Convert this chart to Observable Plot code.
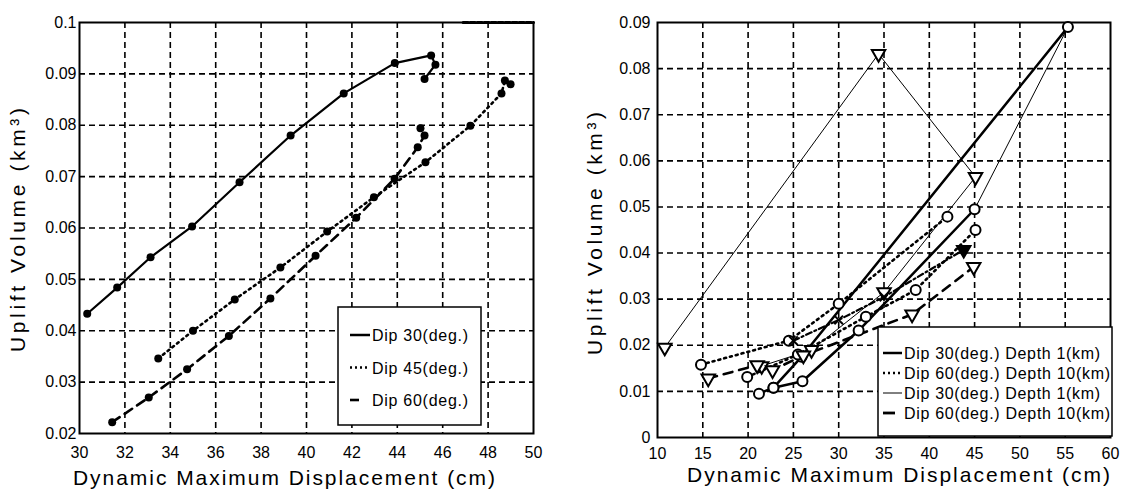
<!DOCTYPE html>
<html><head><meta charset="utf-8">
<script src="https://cdn.jsdelivr.net/npm/d3@7"></script>
<script src="https://cdn.jsdelivr.net/npm/@observablehq/plot@0.6"></script>
<style>
html,body{margin:0;padding:0;background:#fff;}
body{width:1140px;height:497px;position:relative;overflow:hidden;}
.panel{position:absolute;top:0;}
#overlay{position:absolute;left:0;top:0;pointer-events:none;}
</style>
</head><body>
<div id="leftPanel" class="panel" style="left:0"></div>
<div id="rightPanel" class="panel" style="left:570px"></div>
<svg id="overlay" width="1140" height="497"></svg>
<script>
// ---------- Left chart data ----------
const leftXTicks = [30,32,34,36,38,40,42,44,46,48,50];
const leftYTicks = [0.02,0.03,0.04,0.05,0.06,0.07,0.08,0.09,0.1];
const dip30X = [30.34,31.66,33.13,34.96,37.05,39.30,41.64,43.89,45.49,45.68,45.20];
const dip30Y = [0.0433,0.0484,0.0543,0.0603,0.0689,0.0780,0.0862,0.0921,0.0936,0.0918,0.0890];
const dip45X = [33.47,35.00,36.84,38.85,40.91,42.97,45.24,47.22,48.59,48.74,48.99];
const dip45Y = [0.0346,0.0400,0.0461,0.0523,0.0593,0.0660,0.0728,0.0799,0.0862,0.0887,0.0880];
const dip60X = [31.44,33.05,34.74,36.58,38.41,40.40,42.19,43.88,44.90,45.20,45.02];
const dip60Y = [0.0222,0.0270,0.0325,0.0390,0.0463,0.0546,0.0620,0.0696,0.0757,0.0780,0.0794];
const leftTopDashX = [46.9,50];
const leftTopDashY = [0.1,0.1];
const leftLegend = ["Dip 30(deg.)","Dip 45(deg.)","Dip 60(deg.)"];

// ---------- Right chart data ----------
const rightXTicks = [10,15,20,25,30,35,40,45,50,55,60];
const rightYTicks = [0,0.01,0.02,0.03,0.04,0.05,0.06,0.07,0.08,0.09];
const thickAX = [21.2,22.8,26.0,32.2,45.0];
const thickAY = [0.0095,0.0108,0.0122,0.0232,0.0495];
const thickBX = [22.8,25.9,55.3];
const thickBY = [0.0108,0.0175,0.0890];
const dotAX = [14.8,24.5,30.0,42.0];
const dotAY = [0.0158,0.0210,0.0290,0.0479];
const dotBX = [19.9,25.5,33.0,38.5,45.1];
const dotBY = [0.0131,0.0180,0.0262,0.0320,0.0450];
const thinAX = [10.8,34.4,45.1,35.0,27.0,21.5];
const thinAY = [0.0195,0.0832,0.0565,0.0315,0.0190,0.0155];
const thinBX = [45.0,55.3];
const thinBY = [0.0495,0.0890];
const dashAX = [15.6,21.0,22.7,26.1,38.1,44.9];
const dashAY = [0.0128,0.0157,0.0146,0.0178,0.0267,0.0370];
const dashBX = [25.0,30.0,35.0,43.8];
const dashBY = [0.0210,0.0255,0.0305,0.0407];
const rightLegend = ["Dip 30(deg.) Depth 1(km)","Dip 60(deg.) Depth 10(km)","Dip 30(deg.) Depth 1(km)","Dip 60(deg.) Depth 10(km)"];

const xTitle = "Dynamic Maximum Displacement (cm)";
const yTitle = "Uplift Volume (km³)";

// ---------- helpers ----------
const FONT = '"Liberation Sans",Arial,sans-serif';
const P = (xs, ys) => xs.map((x, i) => ({x, y: ys[i]}));
const fmt = d => String(+d.toFixed(2));
const gridStyle = {stroke:"#000", strokeOpacity:1, strokeWidth:1.6, strokeDasharray:"6,4"};

const left = Plot.plot({
  width: 560, height: 497,
  marginLeft: 79, marginRight: 27, marginTop: 22, marginBottom: 64,
  style: {fontFamily: FONT, fontSize: "16px", color: "#000", background: "transparent", overflow: "visible"},
  x: {domain: [30, 50]},
  y: {domain: [0.02, 0.1]},
  marks: [
    Plot.gridX(leftXTicks.slice(1, -1), gridStyle),
    Plot.gridY(leftYTicks.slice(1, -1), gridStyle),
    Plot.frame({stroke: "#000", strokeWidth: 2}),
    Plot.line(P(leftTopDashX, leftTopDashY), {x:"x", y:"y", stroke:"#000", strokeWidth:3, strokeDasharray:"5,2"}),
    Plot.line(P(dip30X, dip30Y), {x:"x", y:"y", stroke:"#000", strokeWidth:2.2}),
    Plot.line(P(dip45X, dip45Y), {x:"x", y:"y", stroke:"#000", strokeWidth:2.6, strokeDasharray:"2,4"}),
    Plot.line(P(dip60X, dip60Y), {x:"x", y:"y", stroke:"#000", strokeWidth:2.6, strokeDasharray:"9,6"}),
    Plot.dot(P(dip30X, dip30Y), {x:"x", y:"y", fill:"#000", r:4}),
    Plot.dot(P(dip45X, dip45Y), {x:"x", y:"y", fill:"#000", r:4}),
    Plot.dot(P(dip60X, dip60Y), {x:"x", y:"y", fill:"#000", r:4}),
    Plot.axisX(leftXTicks, {tickSize: 0, tickPadding: 13, tickFormat: d => String(d), label: null}),
    Plot.axisY(leftYTicks, {tickSize: 0, tickPadding: 3, tickFormat: fmt, label: null})
  ]
});
document.getElementById("leftPanel").appendChild(left);

const tri = {symbol: "triangle", rotate: 180};
const right = Plot.plot({
  width: 570, height: 497,
  marginLeft: 87, marginRight: 30, marginTop: 22, marginBottom: 60,
  style: {fontFamily: FONT, fontSize: "16px", color: "#000", background: "transparent", overflow: "visible"},
  x: {domain: [10, 60]},
  y: {domain: [0, 0.09]},
  marks: [
    Plot.gridX(rightXTicks.slice(1, -1), gridStyle),
    Plot.gridY(rightYTicks.slice(1, -1), gridStyle),
    Plot.frame({stroke: "#000", strokeWidth: 2}),
    Plot.line(P(thinAX, thinAY), {x:"x", y:"y", stroke:"#000", strokeWidth:1}),
    Plot.line(P(thinBX, thinBY), {x:"x", y:"y", stroke:"#000", strokeWidth:1}),
    Plot.line(P(thickAX, thickAY), {x:"x", y:"y", stroke:"#000", strokeWidth:2.5}),
    Plot.line(P(thickBX, thickBY), {x:"x", y:"y", stroke:"#000", strokeWidth:2.5}),
    Plot.line(P(dotAX, dotAY), {x:"x", y:"y", stroke:"#000", strokeWidth:2.6, strokeDasharray:"2,4"}),
    Plot.line(P(dotBX, dotBY), {x:"x", y:"y", stroke:"#000", strokeWidth:2.6, strokeDasharray:"2,4"}),
    Plot.line(P(dashAX, dashAY), {x:"x", y:"y", stroke:"#000", strokeWidth:2.6, strokeDasharray:"9,7"}),
    Plot.line(P(dashBX, dashBY), {x:"x", y:"y", stroke:"#000", strokeWidth:2.2, strokeDasharray:"6,3,2,3"}),
    Plot.dot(P(thickAX, thickAY), {x:"x", y:"y", stroke:"#000", fill:"#fff", strokeWidth:2, r:5}),
    Plot.dot(P(thickBX, thickBY), {x:"x", y:"y", stroke:"#000", fill:"#fff", strokeWidth:2, r:5}),
    Plot.dot(P(dotAX, dotAY), {x:"x", y:"y", stroke:"#000", fill:"#fff", strokeWidth:2, r:5}),
    Plot.dot(P(dotBX, dotBY), {x:"x", y:"y", stroke:"#000", fill:"#fff", strokeWidth:2, r:5}),
    Plot.dot(P(thinAX, thinAY), {x:"x", y:"y", stroke:"#000", fill:"#fff", strokeWidth:2, r:5, ...tri}),
    Plot.dot(P(dashAX, dashAY), {x:"x", y:"y", stroke:"#000", fill:"#fff", strokeWidth:2, r:5, ...tri}),
    Plot.dot(P(dashBX, dashBY).slice(0, -1), {x:"x", y:"y", stroke:"#000", strokeWidth:2, r:4, symbol:"times"}),
    Plot.dot(P(dashBX, dashBY).slice(-1), {x:"x", y:"y", stroke:"#000", fill:"#000", strokeWidth:2, r:5, ...tri}),
    Plot.axisX(rightXTicks, {tickSize: 0, tickPadding: 10, tickFormat: d => String(d), label: null}),
    Plot.axisY(rightYTicks, {tickSize: 0, tickPadding: 7, tickFormat: fmt, label: null})
  ]
});
document.getElementById("rightPanel").appendChild(right);

// ---------- titles and legends ----------
const ov = d3.select("#overlay");
function txt(x, y, s, size, len, rot) {
  const t = ov.append("text").attr("x", x).attr("y", y).text(s)
    .attr("font-family", FONT).attr("font-size", size).attr("fill", "#000");
  if (len) t.attr("textLength", len).attr("lengthAdjust", "spacing");
  if (rot) t.attr("transform", `rotate(-90 ${x} ${y})`);
  return t;
}
// x titles
txt(73, 485, xTitle, 21, 422);
txt(687, 482, xTitle, 21, 423);
// y titles (rotated)
txt(25, 352, yTitle, 21, 244, true);
txt(602, 355, yTitle, 21, 243, true);

// left legend
ov.append("rect").attr("x", 338).attr("y", 307).attr("width", 143).attr("height", 118)
  .attr("fill", "#fff").attr("stroke", "#000").attr("stroke-width", 1.5);
const lStyles = [{w:2.5, d:null},{w:2.6, d:"2,3"},{w:2.6, d:"9,30"}];
leftLegend.forEach((s, i) => {
  const yy = 335 + i * 32.5;
  const ln = ov.append("line").attr("x1", 350).attr("x2", 370).attr("y1", yy).attr("y2", yy)
    .attr("stroke", "#000").attr("stroke-width", lStyles[i].w);
  if (lStyles[i].d) ln.attr("stroke-dasharray", lStyles[i].d);
  txt(372, yy + 6, s, 16, 96);
});

// right legend
ov.append("rect").attr("x", 878).attr("y", 327).attr("width", 234).attr("height", 109)
  .attr("fill", "#fff").attr("stroke", "#000").attr("stroke-width", 1.5);
const rStyles = [{w:2.5, d:null},{w:2.6, d:"2,3"},{w:1, d:null},{w:2.8, d:"12,30"}];
rightLegend.forEach((s, i) => {
  const yy = 353 + i * 20;
  const ln = ov.append("line").attr("x1", 883).attr("x2", 902).attr("y1", yy).attr("y2", yy)
    .attr("stroke", "#000").attr("stroke-width", rStyles[i].w);
  if (rStyles[i].d) ln.attr("stroke-dasharray", rStyles[i].d);
  const len = s.includes("10(") ? 206 : 196;
  txt(904, yy + 6, s, 16, len);
});
</script>
</body></html>
